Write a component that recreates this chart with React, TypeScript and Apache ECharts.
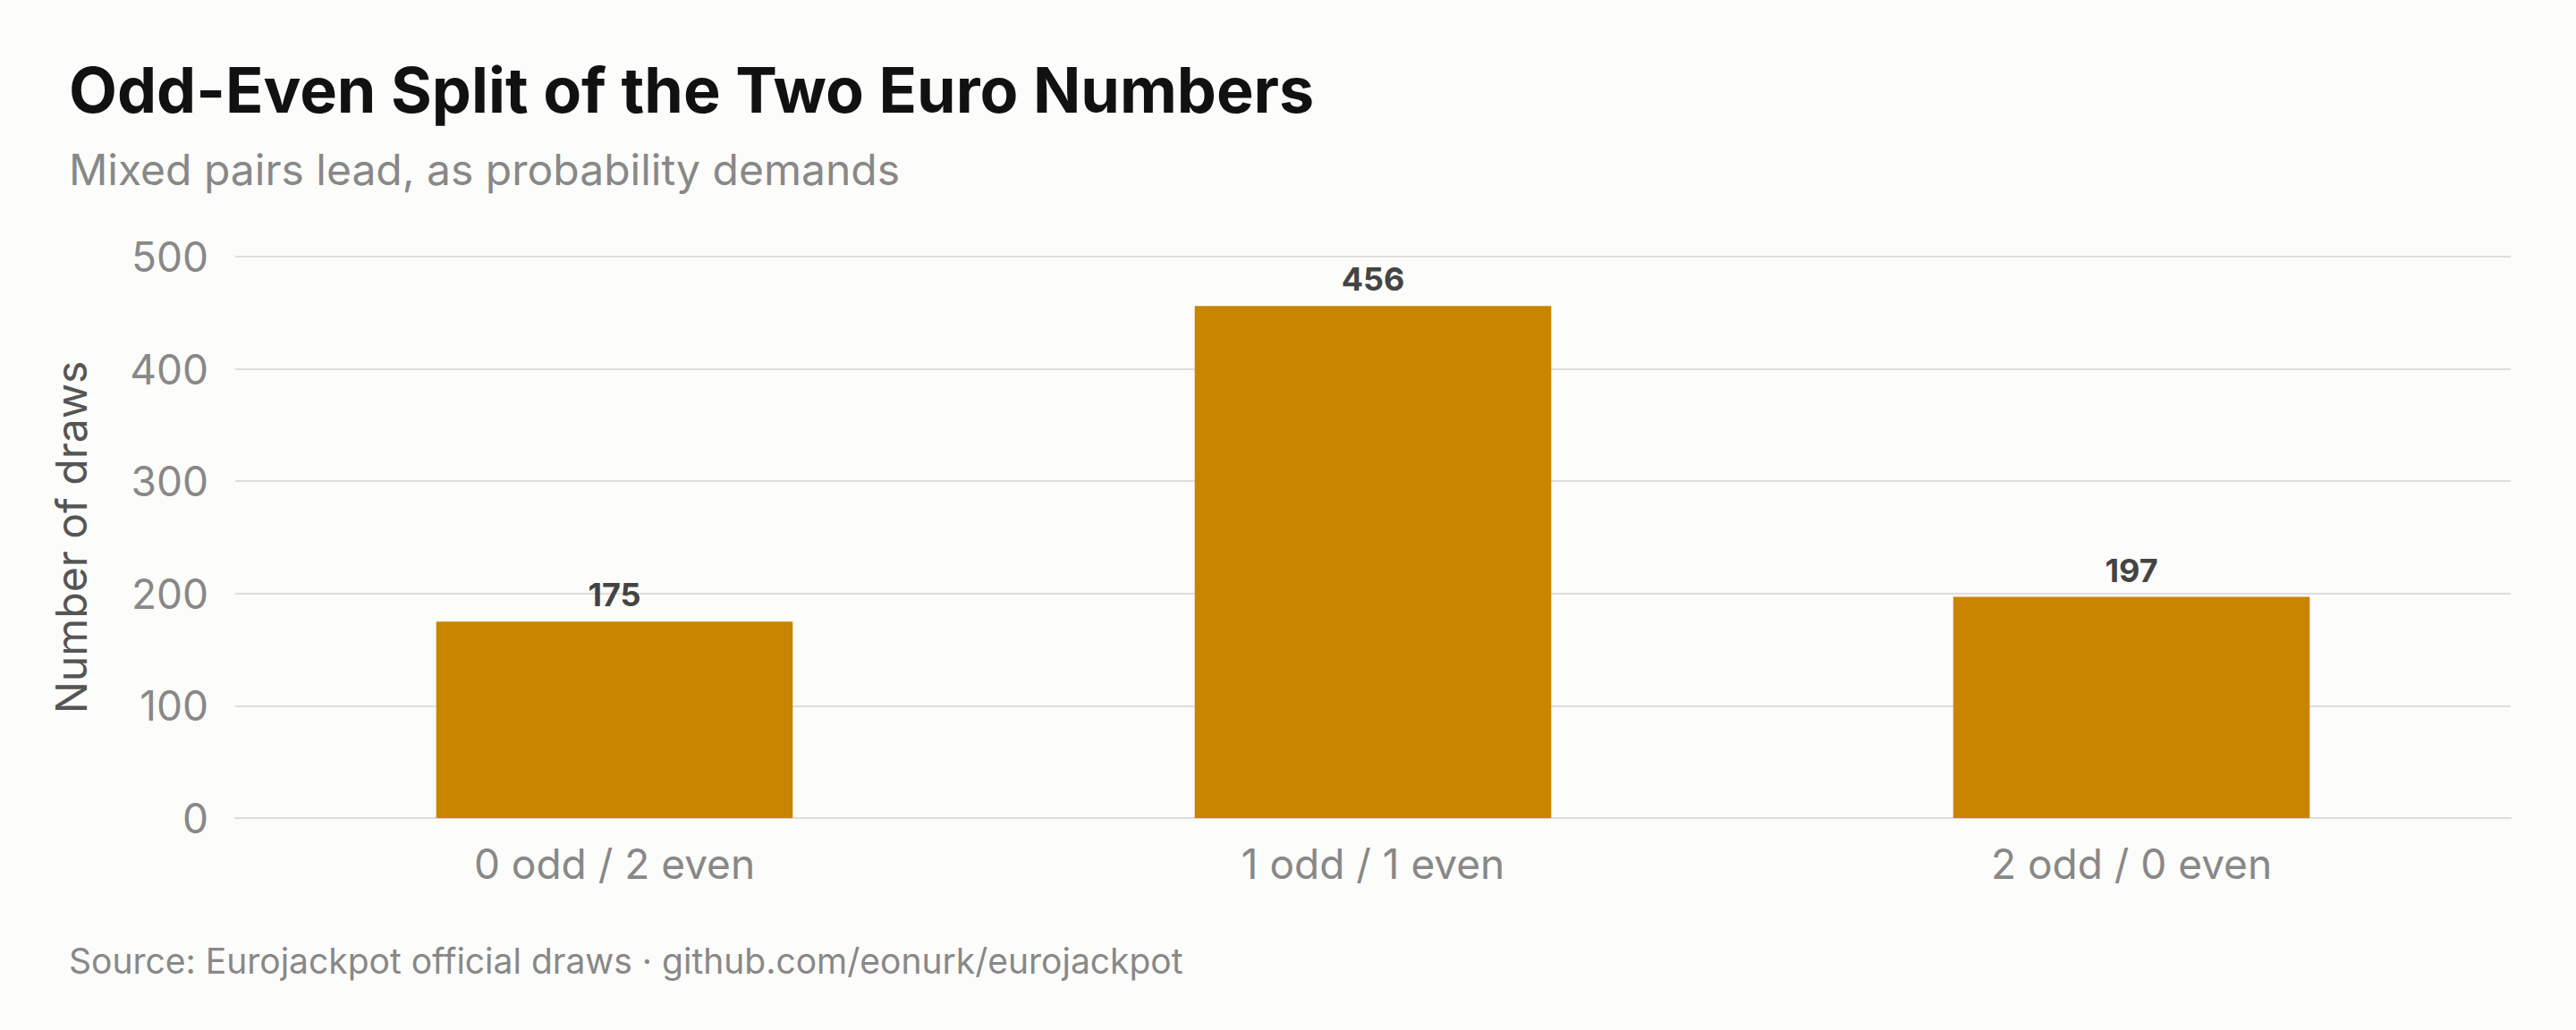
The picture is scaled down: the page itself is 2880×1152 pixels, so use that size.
import React, { useEffect, useRef } from 'react'
import * as echarts from 'echarts'

const categories = ['0 odd / 2 even', '1 odd / 1 even', '2 odd / 0 even']
const draws = [175, 456, 197]
const yTicks = { min: 0, max: 500, interval: 100 }

const App: React.FC = () => {
  const chartRef = useRef<HTMLDivElement>(null)

  useEffect(() => {
    if (!chartRef.current) return
    const chart = echarts.init(chartRef.current, null, { renderer: 'svg' })
    const font = 'Inter, "Noto Sans", sans-serif'

    chart.setOption({
      animation: false,
      backgroundColor: '#FCFCFA',
      textStyle: { fontFamily: font },
      title: [
        {
          text: 'Odd-Even Split of the Two Euro Numbers',
          left: 72,
          top: 60,
          textStyle: { fontSize: 70, fontWeight: 'bold', color: '#111111', fontFamily: font }
        },
        {
          text: 'Mixed pairs lead, as probability demands',
          left: 72,
          top: 160,
          textStyle: { fontSize: 48, fontWeight: 'normal', color: '#888888', fontFamily: font }
        },
        {
          text: 'Source: Eurojackpot official draws · github.com/eonurk/eurojackpot',
          left: 72,
          top: 1050,
          textStyle: { fontSize: 39, fontWeight: 'normal', color: '#888888', fontFamily: font }
        }
      ],
      grid: { left: 263, right: 73, top: 287, bottom: 237 },
      xAxis: {
        type: 'category',
        data: categories,
        axisLine: { show: true, lineStyle: { color: '#dddddd', width: 2 } },
        axisTick: { show: false },
        axisLabel: { color: '#888888', fontSize: 46, margin: 28, fontFamily: font }
      },
      yAxis: {
        type: 'value',
        min: yTicks.min,
        max: yTicks.max,
        interval: yTicks.interval,
        name: 'Number of draws',
        nameLocation: 'middle',
        nameGap: 160,
        nameTextStyle: { color: '#555555', fontSize: 48, fontFamily: font },
        axisLine: { show: false },
        axisTick: { show: false },
        axisLabel: { color: '#888888', fontSize: 46, margin: 30, fontFamily: font },
        splitLine: { lineStyle: { color: '#dddddd', width: 2 } }
      },
      series: [
        {
          type: 'bar',
          data: draws,
          barWidth: '47%',
          itemStyle: { color: '#C98500' },
          label: {
            show: true,
            position: 'top',
            distance: 12,
            color: '#444444',
            fontSize: 36,
            fontWeight: 'bold',
            fontFamily: font
          }
        }
      ]
    })

    return () => chart.dispose()
  }, [])

  return (
    <div
      ref={chartRef}
      style={{ position: 'absolute', left: 0, top: 0, width: 2880, height: 1152 }}
    />
  )
}

export default App
